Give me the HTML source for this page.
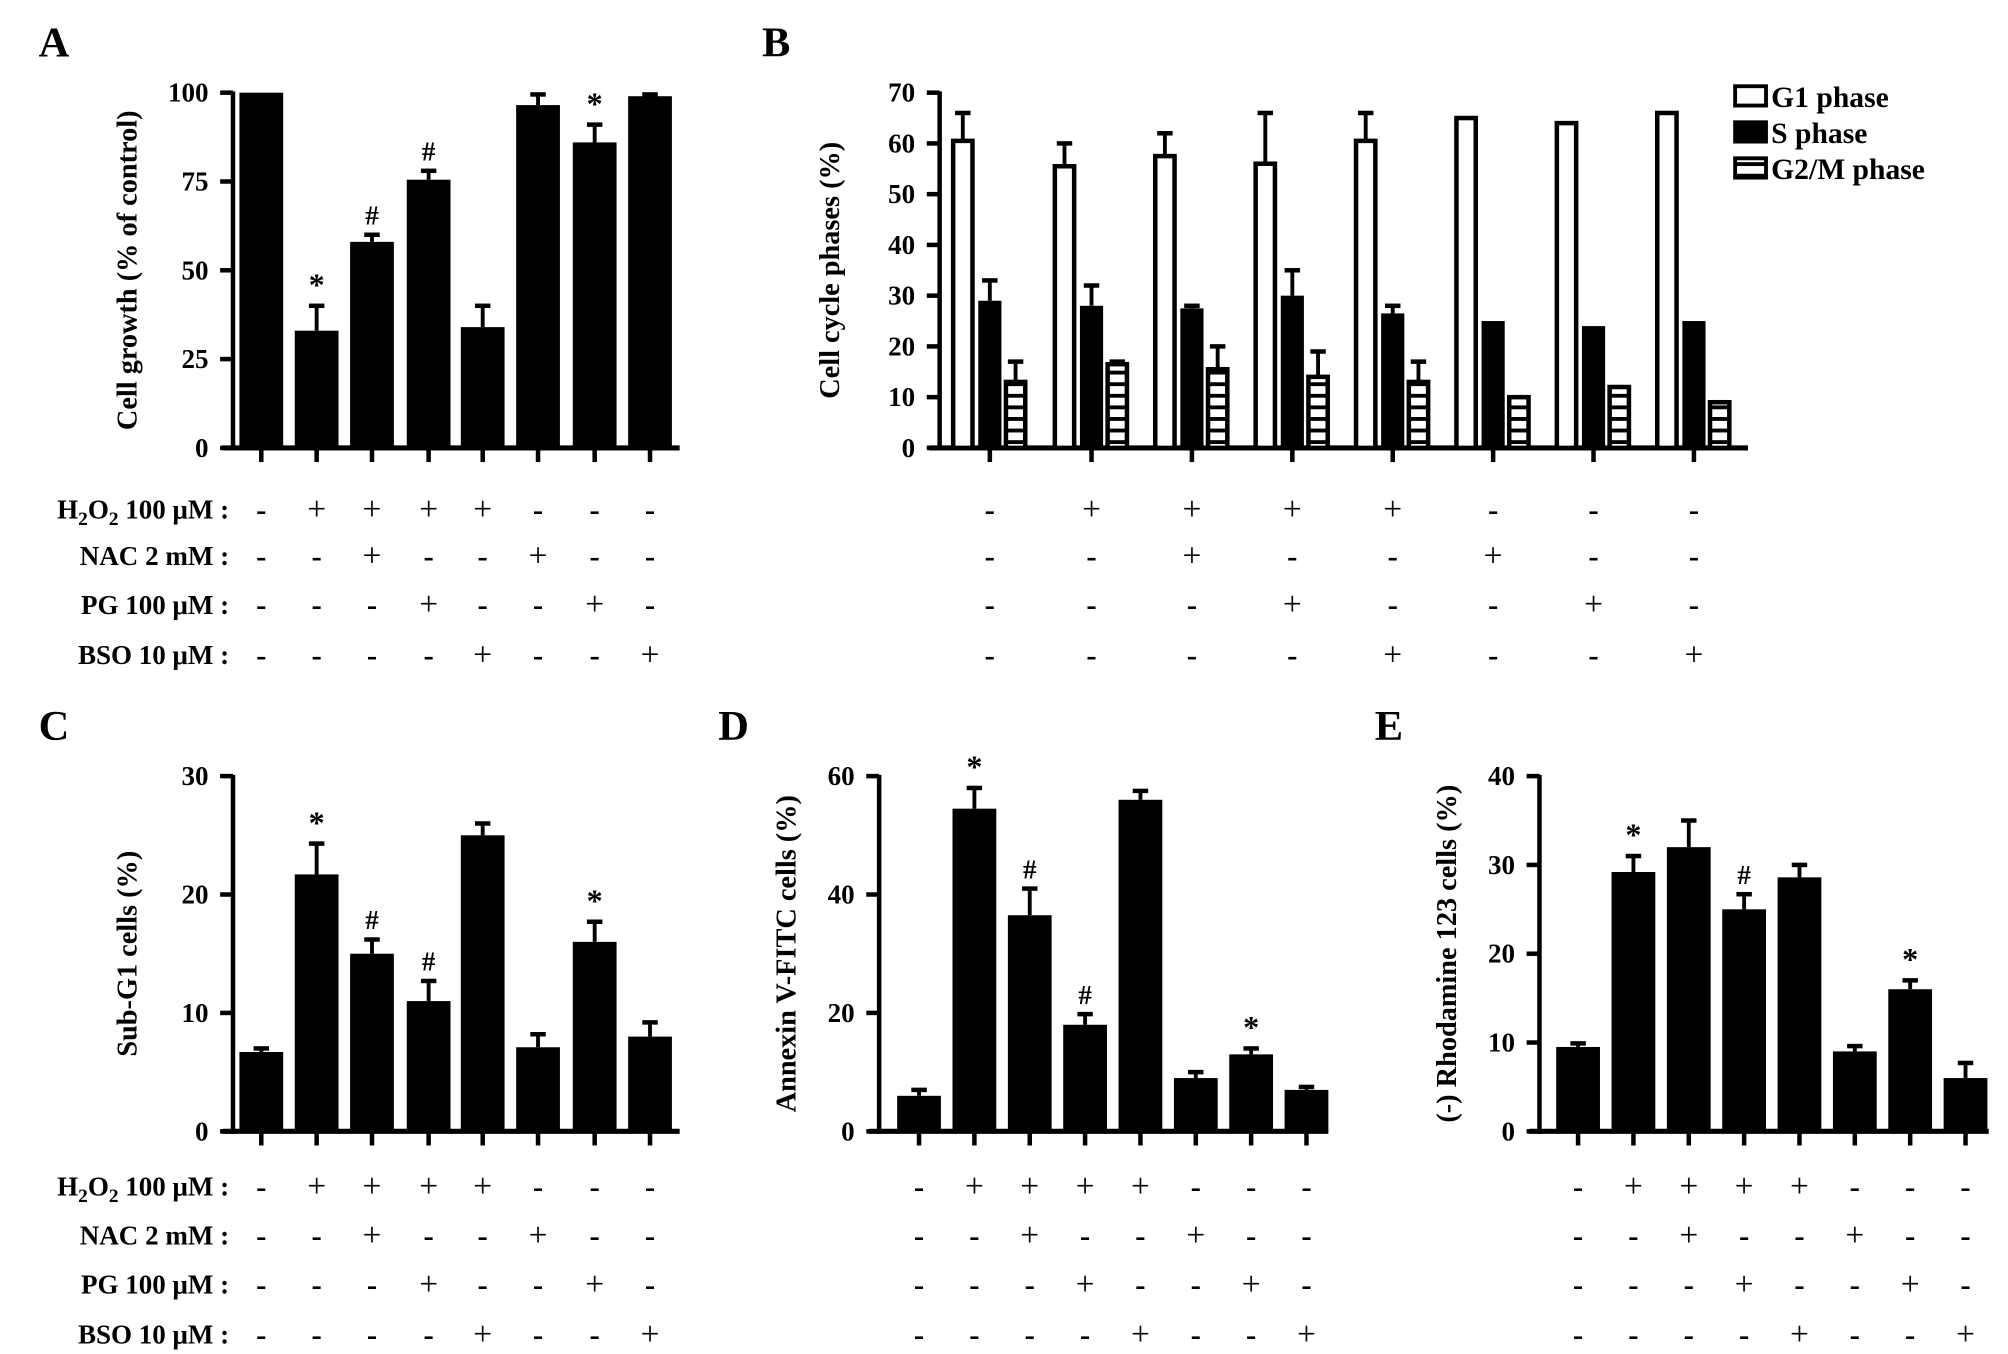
<!DOCTYPE html>
<html><head><meta charset="utf-8"><style>
html,body{margin:0;padding:0;background:#fff;}
svg{display:block;font-family:"Liberation Serif",serif;font-weight:bold;}
</style></head><body>
<svg id="fig" width="2008" height="1354" viewBox="0 0 1560 1052" preserveAspectRatio="none" xmlns="http://www.w3.org/2000/svg">
<defs>
<pattern id="hatch" patternUnits="userSpaceOnUse" width="10" height="9"><rect width="10" height="9" fill="#fff"/><rect y="0" width="10" height="3" fill="#000"/></pattern>
</defs>
</svg>
<script>
const NS="http://www.w3.org/2000/svg";
const svg=document.getElementById('fig');
// ---- data ----
const treatRows=["H2O2 100 μM","NAC 2 mM","PG 100 μM","BSO 10 μM"];
const treatH2O2=["-","+","+","+","+","-","-","-"];
const treatNAC=["-","-","+","-","-","+","-","-"];
const treatPG=["-","-","-","+","-","-","+","-"];
const treatBSO=["-","-","-","-","+","-","-","+"];
const aValues=[100,33,58,75.5,34,96.5,86,99];
const aErrors=[0,7,2,2.5,6,3,5,0.5];
const aMarks=["","*","#","#","","","*",""];
const aTicks=[0,25,50,75,100];
const bG1=[60.5,55.5,57.5,56,60.5,65,64,66];
const bG1Err=[5.5,4.5,4.5,10,5.5,0,0,0];
const bS=[29,28,27.5,30,26.5,25,24,25];
const bSErr=[4,4,0.5,5,1.5,0,0,0];
const bG2M=[13,16.5,15.5,14,13,10,12,9];
const bG2MErr=[4,0.5,4.5,5,4,0,0,0];
const bTicks=[0,10,20,30,40,50,60,70];
const bLegend=["G1 phase","S phase","G2/M phase"];
const cValues=[6.7,21.7,15,11,25,7.1,16,8];
const cErrors=[0.3,2.6,1.2,1.7,1,1.1,1.7,1.2];
const cMarks=["","*","#","#","","","*",""];
const cTicks=[0,10,20,30];
const dValues=[6,54.5,36.5,18,56,9,13,7];
const dErrors=[1,3.5,4.5,1.8,1.5,1,1,0.5];
const dMarks=["","*","#","#","","","*",""];
const dTicks=[0,20,40,60];
const eValues=[9.5,29.2,32,25,28.6,9,16,6];
const eErrors=[0.4,1.8,3,1.7,1.4,0.6,1,1.7];
const eMarks=["","*","","#","","","*",""];
const eTicks=[0,10,20,30,40];

function mk(tag,attrs,parent){const e=document.createElementNS(NS,tag);for(const k in attrs)e.setAttribute(k,attrs[k]);(parent||svg).appendChild(e);return e;}
function txt(x,y,s,size,anchor,parent){const t=mk('text',{x:x,y:y,'font-size':size,'text-anchor':anchor||'middle'},parent);t.textContent=s;return t;}

function axes(g,x0,x1,y0,y1,ticks,max,title,titleX){
  const ys=v=>y0-(v/max)*(y0-y1);
  const ya=mk('line',{x1:x0,y1:y1-1,x2:x0,y2:y0+2,stroke:'#000','stroke-width':3.5},g);
  
  const xa=mk('line',{x1:x0-8,y1:y0,x2:x1,y2:y0,stroke:'#000','stroke-width':4},g);
  
  ticks.forEach(v=>{
    const y=ys(v);
    const tk=mk('line',{x1:x0-10,y1:y,x2:x0,y2:y,stroke:'#000','stroke-width':3.5},g);
    
    const tl=txt(x0-19,y+7,String(v),21,'end',g);
    
  });
  const cy=(y0+y1)/2;
  const tt=mk('text',{x:0,y:0,'font-size':22,'text-anchor':'middle',transform:`translate(${titleX},${cy}) rotate(-90)`},g);
  tt.textContent=title;
  
  return ys;
}
function bar(g,cx,w,val,err,ys,y0,fill,name){
  const top=ys(val);
  const r=mk('rect',{x:cx-w/2,y:top,width:w,height:y0-top,fill:fill,stroke:'#000','stroke-width':fill==='#000'?0:3.5},g);
  
  if(err>0){
    const et=ys(val+err);
    const el=mk('line',{x1:cx,y1:top,x2:cx,y2:et,stroke:'#000','stroke-width':3},g);
    
    const ec=mk('line',{x1:cx-6,y1:et,x2:cx+6,y2:et,stroke:'#000','stroke-width':3.5},g);
    
  }
}
function table(g,centers,rowsY,labelX){
  const cols=[treatH2O2,treatNAC,treatPG,treatBSO];
  rowsY.forEach((y,ri)=>{
    if(labelX){
      const t=mk('text',{x:labelX,y:y+7,'font-size':21,'text-anchor':'end'},g);
      if(ri===0){t.innerHTML='H<tspan font-size="15" dy="5">2</tspan><tspan dy="-5">O</tspan><tspan font-size="15" dy="5">2</tspan><tspan dy="-5"> 100 μM :</tspan>';}
      else t.textContent=treatRows[ri]+' :';
      
    }
    centers.forEach((cx,ci)=>{
      const s=cols[ri][ci];
      const t=txt(cx,y+8,s==='+'?'+':'-',s==='+'?26:24,'middle',g);
      if(s==='+')t.setAttribute('font-weight','normal');
      
    });
  });
}
function simplePanel(name,letter,lx,x0,x1,y0,y1,centers,vals,errs,marks,ticks,title,titleX,rowsY,labelX){
  const g=mk('g',{});
  
  const L=txt(lx,y1-28,letter,33,'start',g);
  
  const max=ticks[ticks.length-1];
  const ys=axes(g,x0,x1,y0,y1,ticks,max,title,titleX);
  centers.forEach((cx,i)=>{
    const xt=mk('line',{x1:cx,y1:y0,x2:cx,y2:y0+11,stroke:'#000','stroke-width':3.5},g);
    
    bar(g,cx,34,vals[i],errs[i],ys,y0,'#000','bar-'+(i+1));
    if(marks[i]){
      const m=txt(cx,ys(vals[i]+errs[i])-8,marks[i],marks[i]==='*'?25:21,'middle',g);
      
    }
  });
  table(g,centers,rowsY,labelX);
}
const cA=[203,246,289,333,375,418,462,505];
const cD=[714,757,800,843,886,929,972,1015];
const cE=[1226,1269,1312,1355,1398,1441,1484,1527];
const rowsTop=[396,432,470,509];
const rowsBot=[922,960,998,1037];
simplePanel('panel-a','A',30,181,528,348,72,cA,aValues,aErrors,aMarks,aTicks,'Cell growth (% of control)',106,rowsTop,178);
simplePanel('panel-c','C',30,181,528,879,603,cA,cValues,cErrors,cMarks,cTicks,'Sub-G1 cells (%)',106,rowsBot,178);
simplePanel('panel-d','D',558,683,1032,879,603,cD,dValues,dErrors,dMarks,dTicks,'Annexin V-FITC cells (%)',618,rowsBot,null);
simplePanel('panel-e','E',1068,1196,1545,879,603,cE,eValues,eErrors,eMarks,eTicks,'(-) Rhodamine 123 cells (%)',1131,rowsBot,null);

// Panel B
(function(){
  const g=mk('g',{});
  
  const L=txt(592,44,'B',33,'start',g);
  
  const x0=730,x1=1358,y0=348,y1=72;
  const ys=axes(g,x0,x1,y0,y1,bTicks,70,'Cell cycle phases (%)',652);
  const cB=[769,848,926,1004,1082,1160,1238,1316];
  cB.forEach((cx,i)=>{
    const xt=mk('line',{x1:cx,y1:y0,x2:cx,y2:y0+11,stroke:'#000','stroke-width':3.5},g);
    
    bar(g,cx-21,15,bG1[i],bG1Err[i],ys,y0,'#fff','bar-g1-'+(i+1));
    bar(g,cx,18,bS[i],bSErr[i],ys,y0,'#000','bar-s-'+(i+1));
    bar(g,cx+20,15,bG2M[i],bG2MErr[i],ys,y0,'url(#hatch)','bar-g2m-'+(i+1));
  });
  table(g,cB,rowsTop,null);
  const fills=['#fff','#000','url(#hatch)'];
  const ly=[67,95,123];
  bLegend.forEach((s,i)=>{
    const r=mk('rect',{x:1348,y:ly[i],width:24,height:15,fill:fills[i],stroke:'#000','stroke-width':3},g);
    
    const t=txt(1376,ly[i]+16,s,23,'start',g);
    
  });
})();
</script>
</body></html>
